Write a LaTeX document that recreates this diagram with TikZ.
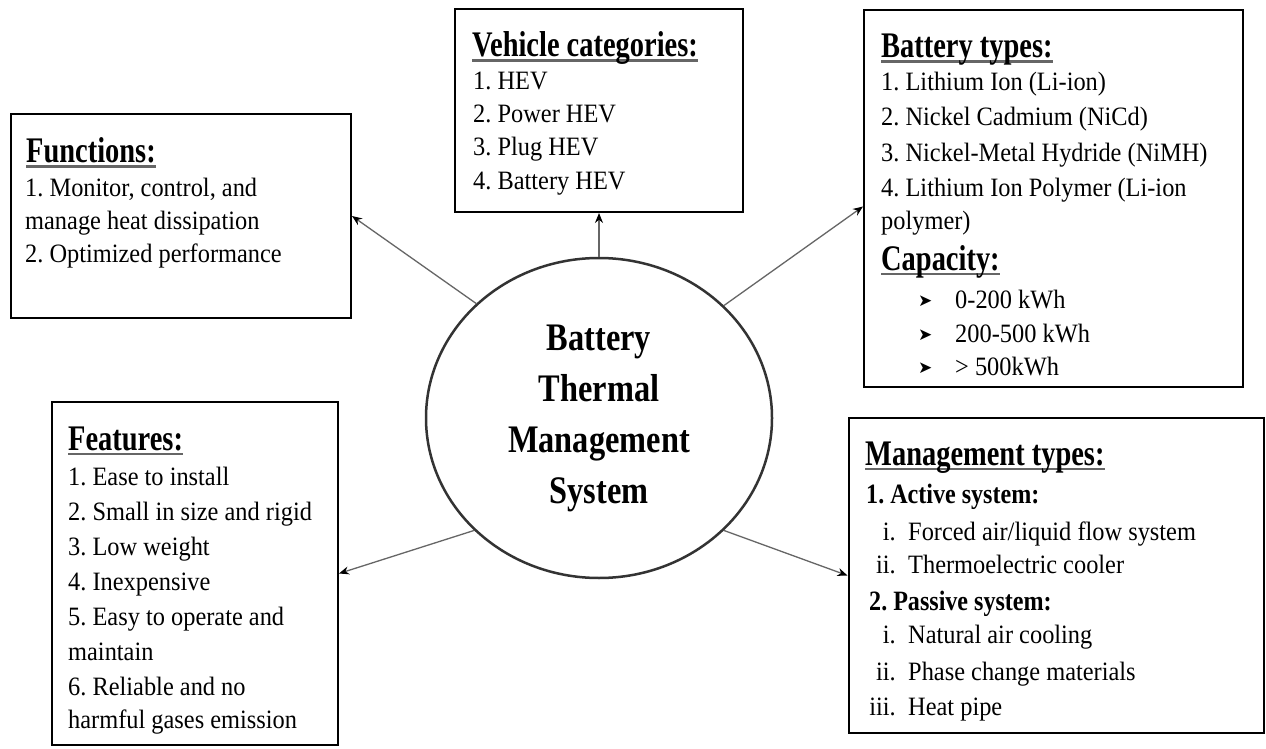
\documentclass[tikz,border=0pt]{standalone}
\usepackage{fontspec}
\setmainfont{Liberation Serif}[FakeStretch=0.92]
\newfontfamily\hdfont{Liberation Serif}[FakeStretch=0.79]
\newfontfamily\bxfont{Liberation Serif}[FakeStretch=0.86]
\newfontfamily\ctfont{Liberation Serif}[FakeStretch=0.83]
\newfontfamily\dingfont{DejaVu Sans}
\usetikzlibrary{arrows.meta,shapes.geometric}
\frenchspacing
\newcommand{\hul}[1]{\setbox0=\hbox{#1}\leavevmode\rlap{\color{black!60}\rule[-5pt]{\wd0}{2.5pt}}\box0}
\tikzset{
  boxnode/.style={draw=black, line width=2pt, inner sep=0pt, rectangle},
  txt/.style={anchor=base west, inner sep=0pt, font=\fontsize{26.5}{30}\selectfont},
  rnum/.style={anchor=base east, inner sep=0pt, font=\fontsize{26.5}{30}\selectfont},
  hd/.style={anchor=base west, inner sep=0pt, font=\hdfont\bfseries\fontsize{36}{40}\selectfont},
  bd/.style={anchor=base west, inner sep=0pt, font=\bxfont\bfseries\fontsize{28}{30}\selectfont},
  bul/.style={anchor=base west, inner sep=0pt, font=\dingfont\fontsize{17}{17}\selectfont},
  centre/.style={ellipse, draw=black!80, line width=2.5pt, minimum width=346pt, minimum height=320pt, inner sep=0pt, align=center, font=\ctfont\bfseries\fontsize{39}{51}\selectfont},
  arr/.style={draw=black!60, line width=1.3pt, -{Stealth[length=10pt,width=8pt,black]}}
}
\begin{document}
\begin{tikzpicture}[x=1pt,y=-1pt]
\fill[white] (0,0) rectangle (1266,749);
\useasboundingbox (0,0) rectangle (1266,749);

% boxes
\node[boxnode, minimum width=340pt, minimum height=204pt] (fun) at (181,216) {};
\node[boxnode, minimum width=288pt, minimum height=203pt] (veh) at (599,110.5) {};
\node[boxnode, minimum width=379pt, minimum height=377pt] (bat) at (1053.5,198.5) {};
\node[boxnode, minimum width=286pt, minimum height=343pt] (fea) at (195,573.5) {};
\node[boxnode, minimum width=415pt, minimum height=315pt] (man) at (1056,575.5) {};

% centre
\node[centre] (ell) at (599,418) {Battery\\Thermal\\Management\\System};

% connectors
\draw[arr] (ell.137) -- (fun.east);
\draw[arr] (ell.north) -- (veh.south);
\draw[arr] (ell.42) -- ([yshift=-8pt]bat.west);
\draw[arr] (ell.222) -- (fea.east);
\draw[arr] (ell.318) -- (man.west);

% Functions
\node[hd] (funh) at (26,163) {\hul{Functions:}};
\node[txt] (fun1) at (25,196) {1. Monitor, control, and};
\node[txt] (fun2) at (25,229) {manage heat dissipation};
\node[txt] (fun3) at (25,262) {2. Optimized performance};

% Vehicle categories
\node[hd] (vehh) at (472,57) {\hul{Vehicle categories:}};
\node[txt] (veh1) at (473,90) {1. HEV};
\node[txt] (veh2) at (473,123) {2. Power HEV};
\node[txt] (veh3) at (473,156) {3. Plug HEV};
\node[txt] (veh4) at (473,189) {4. Battery HEV};

% Battery types
\node[hd] (bath) at (881,58) {\hul{Battery types:}};
\node[txt] (bat1) at (881,91) {1. Lithium Ion (Li-ion)};
\node[txt] (bat2) at (881,126) {2. Nickel Cadmium (NiCd)};
\node[txt] (bat3) at (881,161) {3. Nickel-Metal Hydride (NiMH)};
\node[txt] (bat4) at (881,196) {4. Lithium Ion Polymer (Li-ion};
\node[txt] (bat5) at (881,229) {polymer)};
\node[hd] (caph) at (881,270) {\hul{Capacity:}};
\node[bul] (capb1) at (918,306) {➤};
\node[txt] (cap1) at (955,308) {0-200 kWh};
\node[bul] (capb2) at (918,340) {➤};
\node[txt] (cap2) at (955,342) {200-500 kWh};
\node[bul] (capb3) at (918,373) {➤};
\node[txt] (cap3) at (955,375) {> 500kWh};

% Features
\node[hd] (feah) at (68,450) {\hul{Features:}};
\node[txt] (fea1) at (68,485) {1. Ease to install};
\node[txt] (fea2) at (68,520) {2. Small in size and rigid};
\node[txt] (fea3) at (68,555) {3. Low weight};
\node[txt] (fea4) at (68,590) {4. Inexpensive};
\node[txt] (fea5) at (68,625) {5. Easy to operate and};
\node[txt] (fea6) at (68,660) {maintain};
\node[txt] (fea7) at (68,695) {6. Reliable and no};
\node[txt] (fea8) at (68,728) {harmful gases emission};

% Management types
\node[hd] (manh) at (865,465) {\hul{Management types:}};
\node[bd] (man1) at (866,503) {1. Active system:};
\node[rnum] (manr1) at (896,540) {i.};
\node[txt] (mant1) at (908,540) {Forced air/liquid flow system};
\node[rnum] (manr2) at (896,573) {ii.};
\node[txt] (mant2) at (908,573) {Thermoelectric cooler};
\node[bd] (man2) at (869,610) {2. Passive system:};
\node[rnum] (manr3) at (896,643) {i.};
\node[txt] (mant3) at (908,643) {Natural air cooling};
\node[rnum] (manr4) at (896,680) {ii.};
\node[txt] (mant4) at (908,680) {Phase change materials};
\node[rnum] (manr5) at (896,715) {iii.};
\node[txt] (mant5) at (908,715) {Heat pipe};
\end{tikzpicture}
\end{document}
